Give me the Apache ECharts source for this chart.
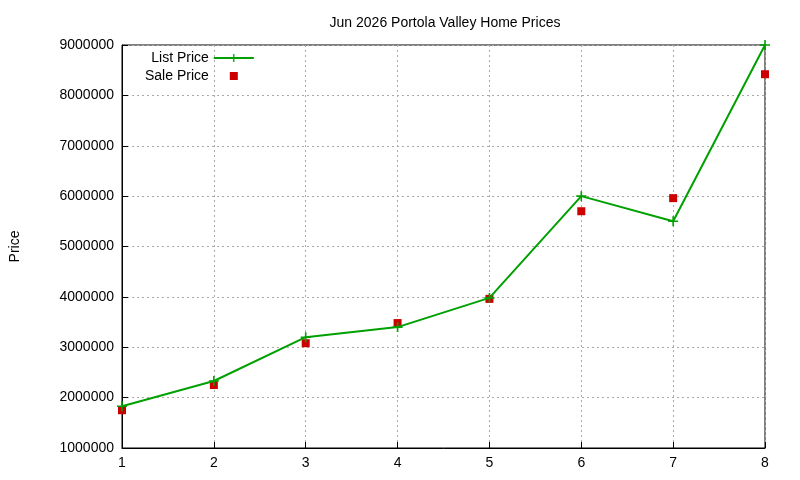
<!DOCTYPE html>
<html>
<head>
<meta charset="utf-8">
<script src="https://cdn.jsdelivr.net/npm/echarts@6/dist/echarts.min.js"></script>
<style>html,body{margin:0;padding:0;background:#fff;}#chart{width:800px;height:480px;}</style>
</head>
<body>
<div id="chart"></div>
<script>
var months = [1, 2, 3, 4, 5, 6, 7, 8];
var listPrice = [1830000, 2330000, 3200000, 3400000, 3980000, 6000000, 5500000, 9000000];
var salePrice = [1750000, 2250000, 3080000, 3480000, 3960000, 5700000, 5960000, 8420000];

var PLUS = 'path://M4.2,0h1.6v4.2h4.2v1.6h-4.2v4.2h-1.6v-4.2h-4.2v-1.6h4.2z';
// small square centred in the wide legend slot
var SQUARE_ICON = 'path://M0,0h0.1v0.1h-0.1z M16,1h8v8h-8z M39.9,9.9h0.1v0.1h-0.1z';
var chart = echarts.init(document.getElementById('chart'));

function pairs(vals) {
	return vals.map(function(v, i) { return [months[i], v]; });
}

var axisText = { color: '#000', fontFamily: 'Liberation Sans', fontSize: 14 };

chart.setOption({
	animation: false,
	title: {
		text: 'Jun 2026 Portola Valley Home Prices',
		left: 440, top: 11, textAlign: 'center',
		textStyle: { fontFamily: 'Liberation Sans', fontSize: 14, fontWeight: 'normal', color: '#000' }
	},
	grid: { left: 118, right: 35, top: 45, bottom: 32, show: true, borderColor: '#000', borderWidth: 1 },
	legend: {
		orient: 'vertical', left: 140, top: 46, align: 'right',
		itemGap: 4, itemWidth: 40, itemHeight: 10,
		textStyle: axisText,
		data: [{ name: 'List Price' }, { name: 'Sale Price', icon: SQUARE_ICON }]
	},
	xAxis: {
		type: 'value', min: 1, max: 8, interval: 1,
		axisLine: { lineStyle: { color: '#000' } },
		axisTick: { inside: true, length: 6, lineStyle: { color: '#000' } },
		axisLabel: axisText,
		splitLine: { lineStyle: { color: '#aaa', type: [2, 3] } }
	},
	yAxis: {
		type: 'value', min: 1000000, max: 9000000, interval: 1000000,
		name: 'Price', nameLocation: 'middle', nameGap: 100, nameRotate: 90,
		nameTextStyle: axisText,
		axisLine: { show: true, lineStyle: { color: '#000' } },
		axisTick: { show: true, inside: true, length: 6, lineStyle: { color: '#000' } },
		axisLabel: Object.assign({ formatter: function(v) { return String(v); } }, axisText),
		splitLine: { lineStyle: { color: '#aaa', type: [2, 3] } }
	},
	series: [{
		name: 'List Price',
		type: 'line',
		data: pairs(listPrice),
		symbol: PLUS, symbolSize: 10,
		itemStyle: { color: '#00a000' },
		lineStyle: { color: '#00a000', width: 2 }
	}, {
		name: 'Sale Price',
		type: 'scatter',
		data: pairs(salePrice),
		symbol: 'rect', symbolSize: 8,
		itemStyle: { color: '#cc0000', opacity: 1 }
	}]
});
</script>
</body>
</html>
